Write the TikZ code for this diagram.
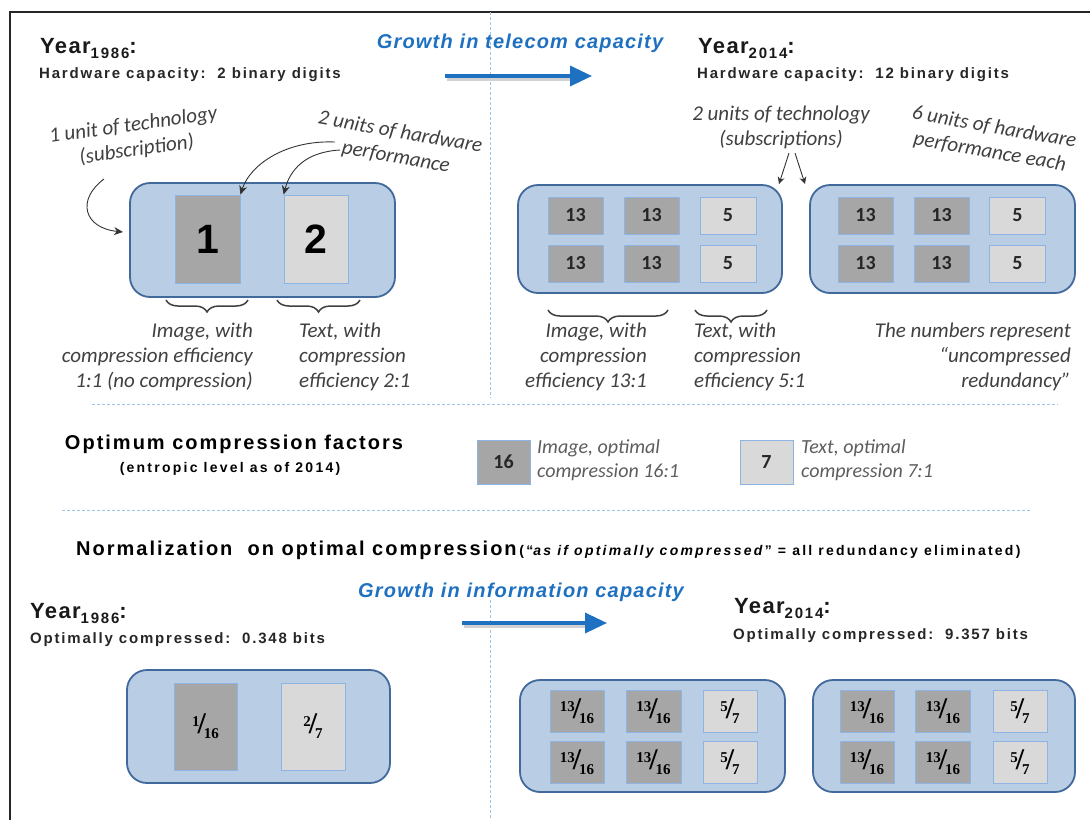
\documentclass[tikz,border=0pt]{standalone}
\usepackage{fontspec}
\setmainfont{Liberation Sans}
\newfontfamily\headfont{Liberation Sans}[LetterSpace=6]
\newfontfamily\subfont{Liberation Sans}[LetterSpace=12]
\newfontfamily\secfont{Liberation Sans}[LetterSpace=10]
\newfontfamily\notefont{Liberation Sans}[LetterSpace=16]
\newfontfamily\hand{Carlito}
\newfontfamily\fracfont{Liberation Serif}
\usetikzlibrary{arrows.meta,decorations.pathreplacing}

\definecolor{boxfill}{RGB}{185,205,229}
\definecolor{boxline}{RGB}{65,105,155}
\definecolor{darkcell}{RGB}{166,166,166}
\definecolor{lightcell}{RGB}{217,217,217}
\definecolor{cellline}{RGB}{142,180,227}
\definecolor{titleblue}{RGB}{30,112,192}
\definecolor{guidecol}{RGB}{157,195,230}
\definecolor{annot}{RGB}{64,64,64}

% Year with subscript
\newcommand{\yr}[1]{Year\raisebox{-5pt}{\subfont\fontsize{15}{15}\selectfont #1}:}
% slanted fraction with raised numerator and lowered denominator
\newcommand{\frq}[2]{{\fracfont\bfseries\fontsize{15}{15}\selectfont\raisebox{7pt}{#1}\kern-2pt{\fontsize{30}{30}\selectfont/}\kern-2pt\raisebox{-5pt}{#2}}}

\tikzset{
  panel/.style={draw=boxline, fill=boxfill, line width=1.8pt, rounded corners=20pt, inner sep=0},
  dcell/.style={draw=cellline, fill=darkcell, line width=0.8pt, inner sep=0},
  lcell/.style={draw=cellline, fill=lightcell, line width=0.8pt, inner sep=0},
  bignum/.style={font=\bfseries\fontsize{41}{41}\selectfont},
  smallnum/.style={font=\hand\bfseries\fontsize{20}{20}\selectfont, text=black!85},
  yearhead/.style={font=\headfont\bfseries\fontsize{22}{22}\selectfont, text=black!90, inner sep=0},
  subhead/.style={font=\subfont\bfseries\fontsize{15}{15}\selectfont, text=black!85, inner sep=0},
  growth/.style={font=\headfont\bfseries\itshape\fontsize{20}{20}\selectfont, text=titleblue, inner sep=0},
  bluearrow/.style={draw=titleblue, line width=3.5pt, -{Triangle[length=22pt,width=20pt]}},
  arrowshade/.style={draw=black!18, line width=3.5pt},
  hand/.style={font=\hand\itshape\fontsize{21}{25}\selectfont, text=annot, inner sep=0},
  handsmall/.style={font=\hand\itshape\fontsize{20}{24}\selectfont, text=annot!85, inner sep=0},
  note/.style={draw=black!80, line width=0.9pt, -{Stealth[length=9pt,width=8pt]}},
  grp/.style={draw=annot, line width=1.5pt, decorate, decoration={brace, mirror, amplitude=12pt}},
  guide/.style={draw=guidecol, line width=1pt, dash pattern=on 3pt off 2pt},
}

\begin{document}
\begin{tikzpicture}[x=1pt, y=-1pt]
\useasboundingbox (0,0) rectangle (1090,820);

% frame
\draw[line width=2pt, black!85] (1090,12) -- (10,12) -- (10,820);

% guide lines
\draw[guide] (490,12) -- (490,398);
\draw[guide] (92,404) -- (1058,404);
\draw[guide] (62,510) -- (1030,510);
\draw[guide] (490,600) -- (490,820);

% ---------- top: telecom capacity ----------
\node[yearhead, anchor=base west] (y86) at (40,53) {\yr{1986}};
\node[subhead, anchor=base west] (hw86) at (39,78) {Hardware capacity:\ \ 2 binary digits};
\node[yearhead, anchor=base west] (y14) at (698,53) {\yr{2014}};
\node[subhead, anchor=base west] (hw14) at (697,78) {Hardware capacity:\ \ 12 binary digits};

\node[growth, anchor=base] (g1) at (520,48) {Growth in telecom capacity};
\coordinate (g1s) at (445,76);
\coordinate (g1e) at (592,76);
\draw[arrowshade] ([shift={(2,3)}]g1s) -- ([shift={(-18,3)}]g1e);
\draw[bluearrow] (g1s) -- (g1e);

% 1986 subscription
\node[panel, minimum width=265, minimum height=114] (p1) at (262.5,240) {};
\node[dcell, minimum width=65, minimum height=88, bignum] (c1) at (207.5,239) {1};
\node[lcell, minimum width=64, minimum height=88, bignum] (c2) at (316,239) {2};

\node[hand, align=center, rotate=8] (t1) at (135,138) {1 unit of technology\\(subscription)};
\coordinate (t1s) at (104,179);
\coordinate (t1end) at (123,232);
\draw[note] (t1s) .. controls (76,200) and (84,228) .. (t1end);

\node[hand, align=center, rotate=-10] (h1) at (398,145) {2 units of hardware\\performance};
\coordinate (h1s1) at (335,142);
\coordinate (h1s2) at (340,150);
\draw[note] (h1s1) .. controls (285,140) and (250,165) .. (c1.north east);
\draw[note] (h1s2) .. controls (305,152) and (290,170) .. (c2.north west);

\draw[grp] (166,300) -- (248,300);
\draw[grp] (277,300) -- (360,300);
\node[hand, align=right, anchor=north east] (l1) at (253,323) {Image, with\\compression efficiency\\1:1 (no compression)};
\node[hand, align=left, anchor=north west] (l2) at (299,323) {Text, with\\compression\\efficiency 2:1};

% 2014 subscriptions
\node[panel, minimum width=264, minimum height=108] (p2) at (650,239) {};
\node[panel, minimum width=265, minimum height=108] (p3) at (942.5,239) {};
\foreach \pn/\xa/\xb/\xc in {a/575.5/651.5/728, b/865.5/941.5/1017.5}{
  \foreach \r/\yy in {1/215.5, 2/263.5}{
    \node[dcell, minimum width=55, minimum height=37, smallnum] (\pn\r x) at (\xa,\yy) {13};
    \node[dcell, minimum width=55, minimum height=37, smallnum] (\pn\r y) at (\xb,\yy) {13};
    \node[lcell, minimum width=56, minimum height=37, smallnum] (\pn\r z) at (\xc,\yy) {5};
  }
}

\node[hand, align=center] (t2) at (781,127) {2 units of technology\\(subscriptions)};
\coordinate (t2s1) at (789,153);
\coordinate (t2s2) at (795,153);
\coordinate (t2e1) at (779,184);
\coordinate (t2e2) at (805,184);
\draw[note, -{Stealth[length=7pt,width=7pt]}] (t2s1) -- (t2e1);
\draw[note, -{Stealth[length=7pt,width=7pt]}] (t2s2) -- (t2e2);

\node[hand, align=center, rotate=-10] (h2) at (992,140) {6 units of hardware\\performance each};

\draw[grp] (548,310) -- (668,310);
\draw[grp] (695,310) -- (767,310);
\node[hand, align=right, anchor=north east] (l3) at (647,323) {Image, with\\compression\\efficiency 13:1};
\node[hand, align=left, anchor=north west] (l4) at (694,323) {Text, with\\compression\\efficiency 5:1};
\node[hand, align=right, anchor=north east] (l5) at (1071,323) {The numbers represent\\“uncompressed\\redundancy”};

% ---------- middle: optimum factors ----------
\node[font=\secfont\bfseries\fontsize{20}{20}\selectfont, inner sep=0, anchor=base] (opt) at (234,449) {Optimum compression factors};
\node[font=\notefont\bfseries\fontsize{14}{14}\selectfont, inner sep=0, anchor=base] (ent) at (230,472) {(entropic level as of 2014)};

\node[dcell, minimum width=53, minimum height=44, smallnum] (f16) at (503.5,462) {16};
\node[handsmall, align=left, anchor=west] (f16t) at (537,460) {Image, optimal\\compression 16:1};
\node[lcell, minimum width=53, minimum height=44, smallnum] (f7) at (766.5,462) {7};
\node[handsmall, align=left, anchor=west] (f7t) at (801,460) {Text, optimal\\compression 7:1};

\node[inner sep=0, anchor=base west] (norm) at (76,555) {{\secfont\bfseries\fontsize{20}{20}\selectfont Normalization\ \ on optimal compression}\ {\notefont\bfseries\fontsize{14}{14}\selectfont (“\textit{as if optimally compressed}” = all redundancy eliminated)}};

% ---------- bottom: information capacity ----------
\node[growth, anchor=base] (g2) at (521,597) {Growth in information capacity};
\coordinate (g2s) at (462,623);
\coordinate (g2e) at (607,623);
\draw[arrowshade] ([shift={(2,3)}]g2s) -- ([shift={(-18,3)}]g2e);
\draw[bluearrow] (g2s) -- (g2e);

\node[yearhead, anchor=base west] (z86) at (30,618) {\yr{1986}};
\node[subhead, anchor=base west] (oc86) at (30,643) {Optimally compressed:\ \ 0.348 bits};
\node[yearhead, anchor=base west] (z14) at (734,613) {\yr{2014}};
\node[subhead, anchor=base west] (oc14) at (733,639) {Optimally compressed:\ \ 9.357 bits};

\node[panel, minimum width=263, minimum height=113] (q1) at (258.5,726.5) {};
\node[dcell, minimum width=63, minimum height=87] (d1) at (205.5,726.5) {\frq{1}{16}};
\node[lcell, minimum width=64, minimum height=87] (d2) at (313,726.5) {\frq{2}{7}};

\node[panel, minimum width=265, minimum height=112] (q2) at (652.5,736) {};
\node[panel, minimum width=262, minimum height=112] (q3) at (944,736) {};
\foreach \pn/\xa/\xb/\xc in {c/577/653.5/730, d/867/943/1020}{
  \foreach \r/\yy in {1/711, 2/762.5}{
    \node[dcell, minimum width=54, minimum height=42] (\pn\r x) at (\xa,\yy) {\frq{13}{16}};
    \node[dcell, minimum width=55, minimum height=42] (\pn\r y) at (\xb,\yy) {\frq{13}{16}};
    \node[lcell, minimum width=54, minimum height=42] (\pn\r z) at (\xc,\yy) {\frq{5}{7}};
  }
}
\end{tikzpicture}
\end{document}
